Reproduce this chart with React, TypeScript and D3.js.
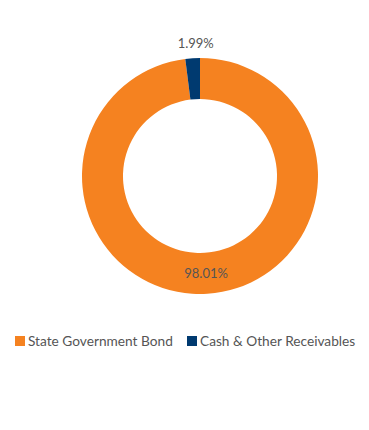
import React from "react"
import * as d3 from "d3"

// ---------- Data ----------
const categories = ["State Government Bond", "Cash & Other Receivables"]
const values = [98.01, 1.99]
const colors = ["#F58220", "#003A70"]

const W = 369
const H = 430
const cx = 200
const cy = 176
const outerR = 118
const innerR = 77

const App: React.FC = () => {
    const pie = d3.pie<number>().sort(null).value(d => d)
    const arcs = pie(values)
    const arc = d3.arc<d3.PieArcDatum<number>>().innerRadius(innerR).outerRadius(outerR)
    const outside = d3.arc<d3.PieArcDatum<number>>().innerRadius(outerR + 15).outerRadius(outerR + 15)

    const legendX = [15, 187]

    return (
        <svg
            width={W}
            height={H}
            style={{ position: "absolute", left: 0, top: 0, fontFamily: "Lato, sans-serif" }}
        >
            <g transform={`translate(${cx},${cy})`}>
                {arcs.map((a, i) => (
                    <path key={i} d={arc(a) ?? ""} fill={colors[i]} />
                ))}
                {arcs.map((a, i) => {
                    // big slice labeled inside, small one outside
                    const [x, y] = a.data > 50 ? arc.centroid(a) : outside.centroid(a)
                    return (
                        <text
                            key={"l" + i}
                            x={x + (a.data > 50 ? 0 : 4)}
                            y={y}
                            dy="0.35em"
                            textAnchor="middle"
                            fontSize={13}
                            fill="#555"
                        >
                            {a.data.toFixed(2)}%
                        </text>
                    )
                })}
            </g>

            {/* Legend */}
            {categories.map((c, i) => (
                <g key={c} transform={`translate(${legendX[i]},341)`}>
                    <rect x={0} y={-5} width={10} height={10} fill={colors[i]} />
                    <text x={13} y={0} dy="0.35em" fontSize={13.7} fill="#555">{c}</text>
                </g>
            ))}
        </svg>
    )
}

export default App
